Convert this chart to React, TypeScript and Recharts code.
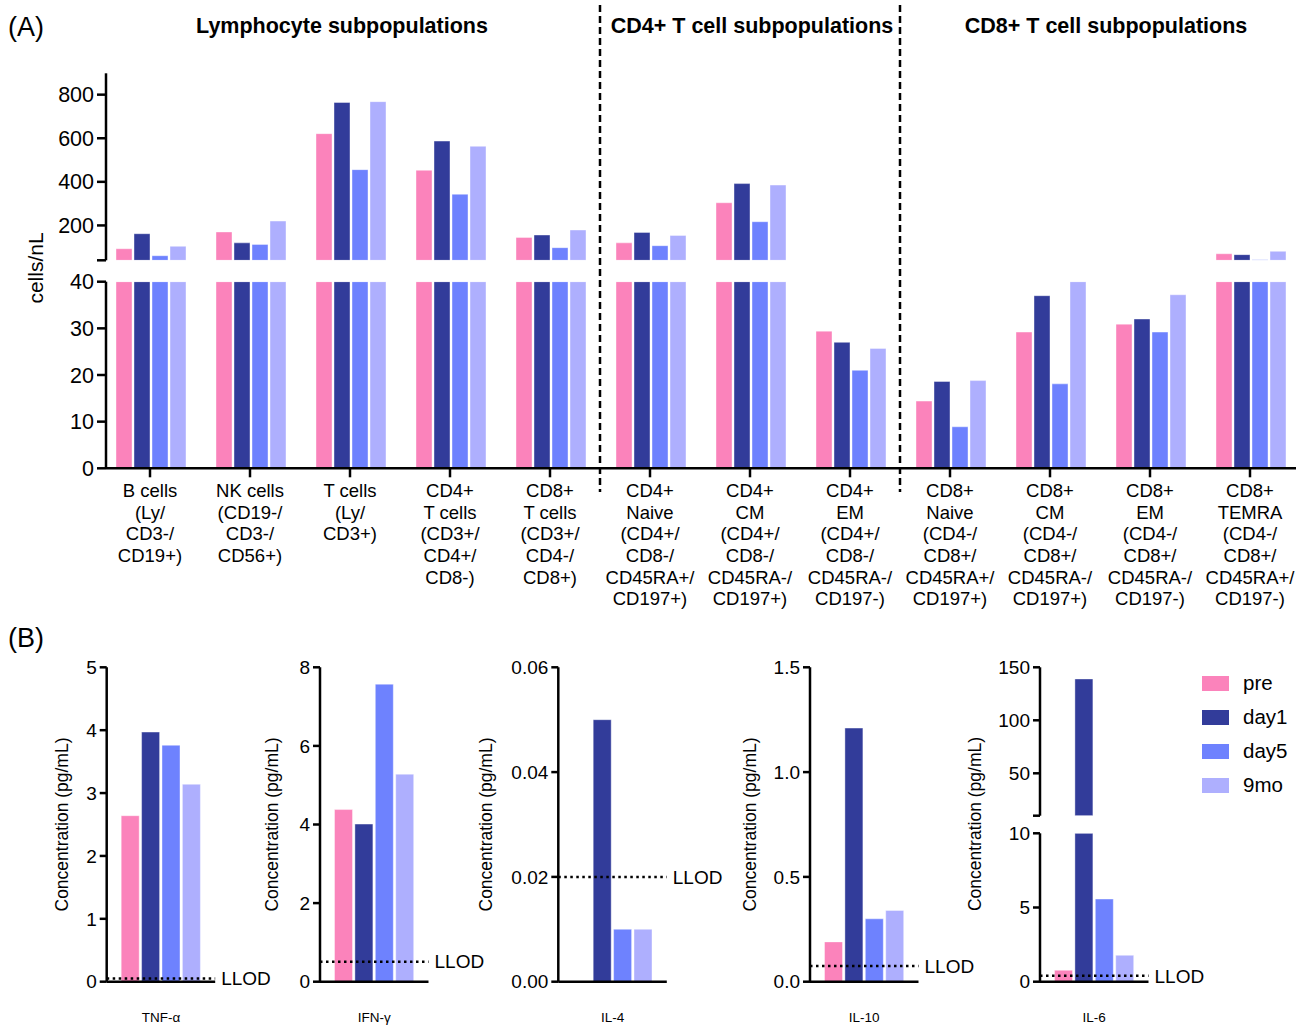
import React from "react";
import { BarChart, Bar, XAxis, YAxis, ReferenceLine, Legend } from "recharts";

const FONT = '"Liberation Sans", Arial, Helvetica, sans-serif';

const SERIES = [
  { key: "pre", name: "pre", color: "#fb83bb" },
  { key: "day1", name: "day1", color: "#323c9a" },
  { key: "day5", name: "day5", color: "#6e82fe" },
  { key: "mo9", name: "9mo", color: "#aeaffe" },
];

// ---- panel A: cell counts (cells/nL) ----
const CELL_TYPES = [
  "B cells\n(Ly/\nCD3-/\nCD19+)",
  "NK cells\n(CD19-/\nCD3-/\nCD56+)",
  "T cells\n(Ly/\nCD3+)",
  "CD4+\nT cells\n(CD3+/\nCD4+/\nCD8-)",
  "CD8+\nT cells\n(CD3+/\nCD4-/\nCD8+)",
  "CD4+\nNaive\n(CD4+/\nCD8-/\nCD45RA+/\nCD197+)",
  "CD4+\nCM\n(CD4+/\nCD8-/\nCD45RA-/\nCD197+)",
  "CD4+\nEM\n(CD4+/\nCD8-/\nCD45RA-/\nCD197-)",
  "CD8+\nNaive\n(CD4-/\nCD8+/\nCD45RA+/\nCD197+)",
  "CD8+\nCM\n(CD4-/\nCD8+/\nCD45RA-/\nCD197+)",
  "CD8+\nEM\n(CD4-/\nCD8+/\nCD45RA-/\nCD197-)",
  "CD8+\nTEMRA\n(CD4-/\nCD8+/\nCD45RA+/\nCD197-)",
];
const CELL_PRE = [93, 170, 621, 453, 145, 120, 304, 29.4, 14.4, 29.2, 30.9, 70];
const CELL_DAY1 = [162, 120, 764, 587, 156, 168, 392, 27.0, 18.6, 37.0, 32.0, 66];
const CELL_DAY5 = [61, 113, 456, 343, 98, 107, 217, 21.0, 8.9, 18.1, 29.2, 43];
const CELL_9MO = [104, 220, 768, 563, 179, 154, 385, 25.7, 18.8, 40.5, 37.2, 81];

const UPPER_TICKS = [40, 200, 400, 600, 800];
const LOWER_TICKS = [0, 10, 20, 30, 40];
const BREAK_A = 40;

// ---- panel B: cytokines (pg/mL) ----
const CYTOKINES = ["TNF-α", "IFN-γ", "IL-4", "IL-10", "IL-6"];
const CYTO_PRE = [2.64, 4.38, 0, 0.19, 0.77];
const CYTO_DAY1 = [3.97, 4.01, 0.05, 1.21, 139];
const CYTO_DAY5 = [3.76, 7.57, 0.01, 0.3, 5.57];
const CYTO_9MO = [3.14, 5.28, 0.01, 0.34, 1.78];
const LLOD = [0.05, 0.51, 0.02, 0.075, 0.4];

const CYTO_TICKS = [
  [0, 1, 2, 3, 4, 5],
  [0, 2, 4, 6, 8],
  [0, 0.02, 0.04, 0.06],
  [0, 0.5, 1.0, 1.5],
  [0, 5, 10],
];
const IL6_UPPER_TICKS = [10, 50, 100, 150];
const BREAK_IL6 = 10;

const cellSeries: Record<string, number[]> = { pre: CELL_PRE, day1: CELL_DAY1, day5: CELL_DAY5, mo9: CELL_9MO };
const cytoSeries: Record<string, number[]> = { pre: CYTO_PRE, day1: CYTO_DAY1, day5: CYTO_DAY5, mo9: CYTO_9MO };

const upperRows = CELL_TYPES.map((name, i) => {
  const r: any = { name };
  SERIES.forEach((s) => {
    const v = cellSeries[s.key][i];
    r[s.key] = v > BREAK_A ? v : null;
  });
  return r;
});
const lowerRows = CELL_TYPES.map((name, i) => {
  const r: any = { name };
  SERIES.forEach((s) => {
    r[s.key] = Math.min(cellSeries[s.key][i], BREAK_A);
  });
  return r;
});
const cytoRow = (i: number, lo?: number, hi?: number) => {
  const r: any = { name: CYTOKINES[i] };
  SERIES.forEach((s) => {
    let v = cytoSeries[s.key][i];
    if (lo !== undefined && v <= lo) v = null as any;
    if (hi !== undefined && v !== null) v = Math.min(v, hi);
    r[s.key] = v;
  });
  return r;
};

// layout
const A_AXIS_X = 106;
const A_RIGHT = 1296;
const A_BAND_LEFT = 100;
const A_BAND = (1300 - A_BAND_LEFT) / CELL_TYPES.length;
const B_TOP = 650;
const B_PLOT_W = 108.5;
const B_AXIS_X = [106.7, 320, 558.3, 810, 1040];
const B_LABEL_X = [62, 272, 486, 750, 975];

const axisLine = { stroke: "#000", strokeWidth: 2.5 };
const tickLine = { stroke: "#000", strokeWidth: 2.5 };

const CellTick = (props: any) => {
  const { x, y, payload } = props;
  const lines = String(payload.value).split("\n");
  return (
    <text x={x} y={y} textAnchor="middle" fontSize={18.5} fill="#000" fontFamily={FONT}>
      {lines.map((l, i) => (
        <tspan key={i} x={x} dy={i === 0 ? 16.5 : 21.7}>
          {l}
        </tspan>
      ))}
    </text>
  );
};

const bars = () =>
  SERIES.map((s) => (
    <Bar
      key={s.key}
      dataKey={s.key}
      name={s.name}
      fill={s.color}
      stroke="#ffffff"
      strokeOpacity={0.5}
      strokeWidth={0.8}
      isAnimationActive={false}
    />
  ));

function PanelA() {
  const seps = [5, 8].map((k) => A_BAND_LEFT + A_BAND * k);
  return (
    <>
      <div style={{ position: "absolute", left: 0, top: 0 }}>
        <BarChart
          width={1309}
          height={270}
          data={upperRows}
          margin={{ top: 73.3, right: 1309 - A_RIGHT, bottom: 9.7, left: 0 }}
          barCategoryGap="16%"
          barGap={2}
        >
          <XAxis dataKey="name" hide padding={{ left: A_BAND_LEFT - A_AXIS_X, right: A_RIGHT - 1300 }} />
          <YAxis
            width={A_AXIS_X}
            domain={[BREAK_A, 898]}
            ticks={UPPER_TICKS}
            interval={0}
            allowDataOverflow
            tickFormatter={(v) => (v === BREAK_A ? "" : String(v))}
            axisLine={axisLine}
            tickLine={tickLine}
            tickSize={9}
            tickMargin={3}
            tick={{ fontSize: 21.5, fill: "#000", fontFamily: FONT }}
          />
          {bars()}
        </BarChart>
      </div>
      <div style={{ position: "absolute", left: 0, top: 270 }}>
        <BarChart
          width={1309}
          height={356}
          data={lowerRows}
          margin={{ top: 11.7, right: 1309 - A_RIGHT, bottom: 7.7, left: 0 }}
          barCategoryGap="16%"
          barGap={2}
        >
          <XAxis
            dataKey="name"
            height={150}
            interval={0}
            padding={{ left: A_BAND_LEFT - A_AXIS_X, right: A_RIGHT - 1300 }}
            axisLine={axisLine}
            tickLine={tickLine}
            tickSize={9}
            tickMargin={3}
            tick={<CellTick />}
          />
          <YAxis
            width={A_AXIS_X}
            domain={[0, BREAK_A]}
            ticks={LOWER_TICKS}
            interval={0}
            allowDataOverflow
            axisLine={axisLine}
            tickLine={tickLine}
            tickSize={9}
            tickMargin={3}
            tick={{ fontSize: 21.5, fill: "#000", fontFamily: FONT }}
          />
          {bars()}
        </BarChart>
      </div>
      <svg
        width={1309}
        height={670}
        style={{ position: "absolute", left: 0, top: 0, pointerEvents: "none" }}
        fontFamily={FONT}
      >
        {seps.map((x, i) => (
          <line key={i} x1={x} x2={x} y1={5} y2={492} stroke="#000" strokeWidth={2.5} strokeDasharray="7 4" />
        ))}
        <text x={8} y={36} fontSize={27} fill="#000">(A)</text>
        <text x={342} y={33} fontSize={21.5} fontWeight="bold" textAnchor="middle" fill="#000">
          Lymphocyte subpopulations
        </text>
        <text x={752} y={33} fontSize={21.5} fontWeight="bold" textAnchor="middle" fill="#000">
          CD4+ T cell subpopulations
        </text>
        <text x={1106} y={33} fontSize={21.5} fontWeight="bold" textAnchor="middle" fill="#000">
          CD8+ T cell subpopulations
        </text>
        <text x={43} y={268} fontSize={21} textAnchor="middle" fill="#000" transform="rotate(-90 43 268)">
          cells/nL
        </text>
        <text x={8} y={647} fontSize={27} fill="#000">(B)</text>
      </svg>
    </>
  );
}

const yTickStyle = { fontSize: 19, fill: "#000", fontFamily: FONT };
const fmtFor = (i: number) => (v: number) =>
  i === 2 ? v.toFixed(2) : i === 3 ? v.toFixed(1) : String(v);

function CytoChart({ i }: { i: number }) {
  const left = B_LABEL_X[i] - 15;
  const yw = B_AXIS_X[i] - left;
  const ticks = CYTO_TICKS[i];
  return (
    <div style={{ position: "absolute", left, top: B_TOP }}>
      <BarChart
        width={yw + B_PLOT_W + 70}
        height={376}
        data={[cytoRow(i)]}
        margin={{ top: 17.3, right: 70, bottom: 14.3, left: 0 }}
        barCategoryGap={14.5}
        barGap={2.4}
      >
        <XAxis
          dataKey="name"
          height={30}
          tickSize={0}
          tickMargin={30.5}
          axisLine={axisLine}
          tick={{ fontSize: 13.5, fill: "#000", fontFamily: FONT }}
        />
        <YAxis
          width={yw}
          domain={[ticks[0], ticks[ticks.length - 1]]}
          ticks={ticks}
          interval={0}
          allowDataOverflow
          tickFormatter={fmtFor(i)}
          axisLine={axisLine}
          tickLine={tickLine}
          tickSize={7}
          tickMargin={3}
          tick={yTickStyle}
          label={{
            value: "Concentration (pg/mL)",
            angle: -90,
            position: "insideLeft",
            offset: 15,
            style: { textAnchor: "middle", fontSize: 17.5, fill: "#000", fontFamily: FONT },
          }}
        />
        {bars()}
        <ReferenceLine
          y={LLOD[i]}
          stroke="#000"
          strokeWidth={2.5}
          strokeDasharray="2.5 3.5"
          label={{ value: "LLOD", position: "right", offset: 6, fill: "#000", fontSize: 19, fontFamily: FONT }}
        />
      </BarChart>
    </div>
  );
}

const LegendBox = (props: any) => {
  const { payload } = props;
  const items = SERIES.map((s) => (payload || []).find((p: any) => p.dataKey === s.key || p.value === s.name)).filter(Boolean);
  return (
    <div style={{ fontFamily: FONT }}>
      {items.map((p: any) => (
        <div key={p.value} style={{ display: "flex", alignItems: "center", height: 34 }}>
          <span style={{ display: "inline-block", width: 27, height: 15, background: p.color }} />
          <span style={{ marginLeft: 14, fontSize: 20.5, color: "#000" }}>{p.value}</span>
        </div>
      ))}
    </div>
  );
};

function Il6Chart() {
  const i = 4;
  const left = B_LABEL_X[i] - 15;
  const yw = B_AXIS_X[i] - left;
  return (
    <>
      <div style={{ position: "absolute", left, top: B_TOP }}>
        <BarChart
          width={1309 - left}
          height={180}
          data={[cytoRow(i, BREAK_IL6)]}
          margin={{ top: 17.3, right: 1309 - left - yw - B_PLOT_W, bottom: 14.3, left: 0 }}
          barCategoryGap={14.5}
          barGap={2.4}
        >
          <XAxis dataKey="name" hide />
          <YAxis
            width={yw}
            domain={[BREAK_IL6, 150]}
            ticks={IL6_UPPER_TICKS}
            interval={0}
            allowDataOverflow
            tickFormatter={(v) => (v === BREAK_IL6 ? "" : String(v))}
            axisLine={axisLine}
            tickLine={tickLine}
            tickSize={7}
            tickMargin={3}
            tick={yTickStyle}
          />
          {bars()}
          <Legend
            layout="vertical"
            align="center"
            verticalAlign="middle"
            wrapperStyle={{ left: 1202 - left, top: 16, width: 100 }}
            content={<LegendBox />}
          />
        </BarChart>
      </div>
      <div style={{ position: "absolute", left, top: 820 }}>
        <BarChart
          width={yw + B_PLOT_W + 70}
          height={206}
          data={[cytoRow(i, undefined, BREAK_IL6)]}
          margin={{ top: 13.3, right: 70, bottom: 14.3, left: 0 }}
          barCategoryGap={14.5}
          barGap={2.4}
        >
          <XAxis
            dataKey="name"
            height={30}
            tickSize={0}
            tickMargin={30.5}
            axisLine={axisLine}
            tick={{ fontSize: 13.5, fill: "#000", fontFamily: FONT }}
          />
          <YAxis
            width={yw}
            domain={[0, BREAK_IL6]}
            ticks={CYTO_TICKS[i]}
            interval={0}
            allowDataOverflow
            axisLine={axisLine}
            tickLine={tickLine}
            tickSize={7}
            tickMargin={3}
            tick={yTickStyle}
          />
          {bars()}
          <ReferenceLine
            y={LLOD[i]}
            stroke="#000"
            strokeWidth={2.5}
            strokeDasharray="2.5 3.5"
            label={{ value: "LLOD", position: "right", offset: 6, fill: "#000", fontSize: 19, fontFamily: FONT }}
          />
        </BarChart>
      </div>
      <svg
        width={40}
        height={240}
        style={{ position: "absolute", left: B_LABEL_X[i] - 20, top: 704, pointerEvents: "none" }}
      >
        <text
          x={26}
          y={120}
          fontSize={17.5}
          fontFamily={FONT}
          textAnchor="middle"
          fill="#000"
          transform="rotate(-90 26 120)"
        >
          Concentration (pg/mL)
        </text>
      </svg>
    </>
  );
}

export default function App() {
  return (
    <div
      style={{
        position: "absolute",
        left: 0,
        top: 0,
        width: 1309,
        height: 1026,
        background: "#fff",
        fontFamily: FONT,
        overflow: "hidden",
      }}
    >
      <PanelA />
      {[0, 1, 2, 3].map((i) => (
        <CytoChart key={i} i={i} />
      ))}
      <Il6Chart />
    </div>
  );
}
